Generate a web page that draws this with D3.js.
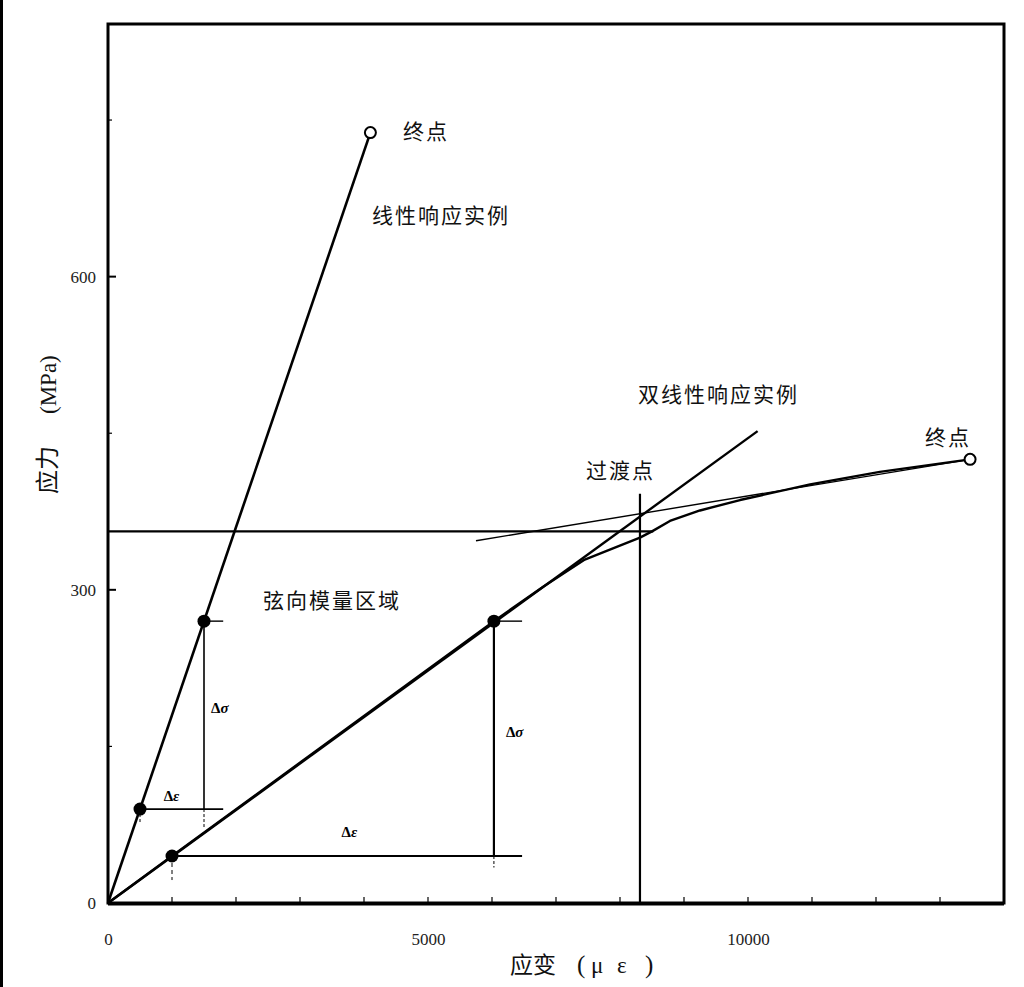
<!DOCTYPE html>
<html>
<head>
<meta charset="utf-8">
<script src="https://cdn.jsdelivr.net/npm/d3@7"></script>
<style>
  body { margin: 0; background: #fff; }
  text { font-family: "Liberation Serif", "Noto Sans CJK SC", serif; }
  .cn { font-family: "Noto Sans CJK SC", sans-serif; font-size: 21px; letter-spacing: 2px; fill: #111; }
</style>
</head>
<body>
<div id="chart"></div>
<script>
// strain (micro-strain) / stress (MPa)
var xTicks = [0, 5000, 10000];
var xMinor = [1000, 2000, 3000, 4000, 6000, 7000, 8000, 9000, 11000, 12000, 13000];
var yTicks = [0, 300, 600];
var yMinor = [150, 450, 750];

var linearLine = [[0, 0], [4100, 738]];
var linearDots = [[500, 90], [1500, 270]];
var linearEnd = [4100, 738];

var initialLine = [[0, 0], [10150, 452]];
var secondTangent = [[5750, 347], [13470, 425]];
var bilinearCurve = [[0, 0], [1000, 45], [6030, 270], [6800, 303], [7450, 329], [7900, 340], [8312, 350],
  [8500, 356], [8780, 366], [9250, 376], [9875, 386], [10970, 401], [12060, 413], [13470, 425]];
var bilinearDots = [[1000, 45], [6030, 270]];
var bilinearEnd = [13470, 425];
var transitionX = 8312;
var transitionTop = 392;
var transitionLevel = 356;

var W = 1024, H = 987;
var svg = d3.select("#chart").append("svg")
  .attr("width", W)
  .attr("height", H);

var x = d3.scaleLinear().domain([0, 14000]).range([108, 1004]);
var y = d3.scaleLinear().domain([0, 842]).range([903, 24]);

// scan edge on the left
svg.append("rect").attr("x", 0).attr("y", 0).attr("width", 3).attr("height", H).attr("fill", "#000");

// frame
svg.append("rect")
  .attr("x", x(0)).attr("y", y(842))
  .attr("width", x(14000) - x(0)).attr("height", y(0) - y(842))
  .attr("fill", "none").attr("stroke", "#000").attr("stroke-width", 3);
svg.append("line")
  .attr("x1", x(0)).attr("x2", x(14000)).attr("y1", y(0) + 1).attr("y2", y(0) + 1)
  .attr("stroke", "#000").attr("stroke-width", 3);

// x axis ticks (inside)
var xAxis = svg.append("g")
  .attr("transform", "translate(0," + y(0) + ")")
  .call(d3.axisBottom(x).tickValues(xTicks).tickSize(0).tickPadding(30).tickFormat(d3.format("d")));
xAxis.select(".domain").remove();
xAxis.selectAll("text").attr("font-size", 17).attr("fill", "#222");
svg.append("g").selectAll("line")
  .data(xTicks.concat(xMinor).filter(function(d) { return d > 0; }))
  .enter().append("line")
  .attr("x1", function(d) { return x(d); }).attr("x2", function(d) { return x(d); })
  .attr("y1", y(0)).attr("y2", y(0) - 6)
  .attr("stroke", "#000").attr("stroke-width", 1.2);

var yAxis = svg.append("g")
  .attr("transform", "translate(" + x(0) + ",0)")
  .call(d3.axisLeft(y).tickValues(yTicks).tickSize(0).tickPadding(12).tickFormat(d3.format("d")));
yAxis.select(".domain").remove();
yAxis.selectAll("text").attr("font-size", 17).attr("fill", "#222");
svg.append("g").selectAll("line")
  .data(yTicks.filter(function(d) { return d > 0; }))
  .enter().append("line")
  .attr("x1", x(0)).attr("x2", x(0) + 8)
  .attr("y1", function(d) { return y(d); }).attr("y2", function(d) { return y(d); })
  .attr("stroke", "#000").attr("stroke-width", 2);
svg.append("g").selectAll("line")
  .data(yMinor)
  .enter().append("line")
  .attr("x1", x(0)).attr("x2", x(0) + 4)
  .attr("y1", function(d) { return y(d); }).attr("y2", function(d) { return y(d); })
  .attr("stroke", "#000").attr("stroke-width", 1.2);

// axis titles
var xt = svg.append("text").attr("y", 973).attr("fill", "#111");
xt.append("tspan").attr("x", 510).attr("font-family", "Noto Sans CJK SC").attr("font-size", 23).text("应变");
xt.append("tspan").attr("x", 577).attr("font-size", 25).text("(");
xt.append("tspan").attr("x", 591).attr("font-size", 23).text("μ");
xt.append("tspan").attr("x", 617).attr("font-size", 23).text("ε");
xt.append("tspan").attr("x", 645).attr("font-size", 25).text(")");

var yt = svg.append("text")
  .attr("transform", "translate(56,494) rotate(-90)")
  .attr("fill", "#111");
yt.append("tspan").attr("x", 0).attr("font-family", "Noto Sans CJK SC").attr("font-size", 24).text("应力");
yt.append("tspan").attr("x", 80).attr("font-size", 23).text("(MPa)");

var line = d3.line()
  .x(function(d) { return x(d[0]); })
  .y(function(d) { return y(d[1]); });

// transition guides
svg.append("line")
  .attr("x1", x(0)).attr("x2", x(8520))
  .attr("y1", y(transitionLevel)).attr("y2", y(transitionLevel))
  .attr("stroke", "#000").attr("stroke-width", 2.2);
svg.append("line")
  .attr("x1", x(transitionX)).attr("x2", x(transitionX))
  .attr("y1", y(transitionTop)).attr("y2", y(0))
  .attr("stroke", "#000").attr("stroke-width", 2.2);

// curves
svg.append("path").datum(linearLine).attr("d", line)
  .attr("fill", "none").attr("stroke", "#000").attr("stroke-width", 2.6);
svg.append("path").datum(initialLine).attr("d", line)
  .attr("fill", "none").attr("stroke", "#000").attr("stroke-width", 2.4);
svg.append("path").datum(secondTangent).attr("d", line)
  .attr("fill", "none").attr("stroke", "#000").attr("stroke-width", 1.4);
svg.append("path").datum(bilinearCurve).attr("d", line)
  .attr("fill", "none").attr("stroke", "#000").attr("stroke-width", 2.4)
  .attr("stroke-linejoin", "round");

// chord modulus helpers
function helper(x1, y1, x2, y2, w, dash) {
  svg.append("line")
    .attr("x1", x(x1)).attr("y1", y(y1)).attr("x2", x(x2)).attr("y2", y(y2))
    .attr("stroke", "#000").attr("stroke-width", w)
    .attr("stroke-dasharray", dash || null);
}
helper(linearDots[0][0], linearDots[0][1], 1800, linearDots[0][1], 1.8);
helper(linearDots[1][0], linearDots[1][1], linearDots[1][0], linearDots[0][1], 1.6);
helper(linearDots[1][0], linearDots[1][1], 1800, linearDots[1][1], 1.4);
helper(linearDots[1][0], linearDots[0][1], linearDots[1][0], 72, 1, "3,2");
helper(linearDots[0][0], linearDots[0][1], linearDots[0][0], 76, 1, "3,2");

helper(bilinearDots[0][0], bilinearDots[0][1], 6470, bilinearDots[0][1], 1.8);
helper(bilinearDots[1][0], bilinearDots[1][1], bilinearDots[1][0], bilinearDots[0][1], 2.2);
helper(bilinearDots[1][0], bilinearDots[1][1], 6470, bilinearDots[1][1], 1.4);
helper(bilinearDots[1][0], bilinearDots[0][1], bilinearDots[1][0], 34, 1, "3,2");
helper(bilinearDots[0][0], bilinearDots[0][1], bilinearDots[0][0], 22, 1, "4,3");

// points
svg.append("g").selectAll("circle")
  .data(linearDots.concat(bilinearDots))
  .enter().append("circle")
  .attr("cx", function(d) { return x(d[0]); })
  .attr("cy", function(d) { return y(d[1]); })
  .attr("r", 6.5).attr("fill", "#000");
svg.append("g").selectAll("circle")
  .data([linearEnd, bilinearEnd])
  .enter().append("circle")
  .attr("cx", function(d) { return x(d[0]); })
  .attr("cy", function(d) { return y(d[1]); })
  .attr("r", 5.5).attr("fill", "#fff").attr("stroke", "#000").attr("stroke-width", 2);

// delta labels
function delta(px, py, sym) {
  var t = svg.append("text").attr("x", px).attr("y", py)
    .attr("font-family", "DejaVu Sans").attr("font-size", 15).attr("font-weight", "bold").attr("fill", "#000");
  t.append("tspan").text("Δ");
  t.append("tspan").attr("font-style", "italic").text(sym);
}
delta(x(1500) + 7, y(180) - 2, "σ");
delta(x(870), y(90) - 8, "ε");
delta(x(6030) + 12, y(160) + 1, "σ");
delta(x(3650), y(45) - 19, "ε");

// annotations
var notes = [
  { t: "终点", x: 403, y: 139 },
  { t: "线性响应实例", x: 372, y: 223 },
  { t: "双线性响应实例", x: 638, y: 402 },
  { t: "过渡点", x: 586, y: 478 },
  { t: "终点", x: 925, y: 445 },
  { t: "弦向模量区域", x: 263, y: 608 }
];
svg.append("g").selectAll("text")
  .data(notes)
  .enter().append("text")
  .attr("class", "cn")
  .attr("x", function(d) { return d.x; })
  .attr("y", function(d) { return d.y; })
  .text(function(d) { return d.t; });
</script>
</body>
</html>
